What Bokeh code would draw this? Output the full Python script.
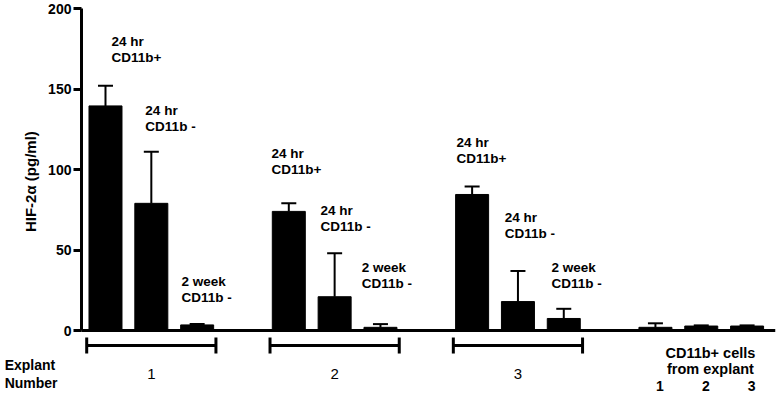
import numpy as np
from bokeh.plotting import figure
from bokeh.models import Range1d, FixedTicker, Whisker, TeeHead, ColumnDataSource
from bokeh.core.properties import value
from bokeh.embed import file_html
from bokeh.resources import INLINE

# ---------------- data ----------------
explants = ["1", "2", "3"]
conditions = ["24 hr CD11b+", "24 hr CD11b -", "2 week CD11b -"]
exp1_mean = [139.5, 79, 3.5]
exp1_err = [12.5, 32, 0.5]
exp2_mean = [74, 21, 2]
exp2_err = [5, 27, 2]
exp3_mean = [84.5, 18, 7.5]
exp3_err = [5, 19, 6]
cells_mean = [2, 2.8, 2.8]
cells_err = [2.5, 0.4, 0.4]
y_ticks = [0, 50, 100, 150, 200]
cond_line1 = ["24 hr", "24 hr", "2 week"]
cond_line2 = ["CD11b+", "CD11b -", "CD11b -"]

# ---------------- layout constants ----------------
FONT = "Liberation Sans"
GROUP_STEP = 4
BAR_W = 0.72
X_START, X_END = -2.291, 14.62
Y_START, Y_END = -42.2, 204.97
AXIS_X = -0.524
label_dx = [0.13, -0.13, -0.34, -0.38, -0.31, -0.41, -0.34, -0.29, -0.27]
label_y = [179.5, 136.6, 30.4, 110, 74.5, 39, 116.8, 70.2, 39]

p = figure(width=776, height=398, output_backend="svg", toolbar_location=None,
           x_range=Range1d(X_START, X_END), y_range=Range1d(Y_START, Y_END),
           x_axis_location=None, min_border_left=0, min_border_right=1,
           min_border_top=0, min_border_bottom=0)
p.outline_line_color = None
p.xgrid.visible = False
p.ygrid.visible = False
p.background_fill_color = "white"

ax = p.yaxis[0]
ax.fixed_location = AXIS_X
ax.bounds = (0, 200)
ax.ticker = FixedTicker(ticks=y_ticks)
ax.axis_line_width = 3
ax.major_tick_line_width = 3
ax.major_tick_out = 8
ax.major_tick_in = 0
ax.minor_tick_out = 0
ax.minor_tick_in = 0
ax.major_label_standoff = 2
ax.major_label_text_font = FONT
ax.major_label_text_font_style = "bold"
ax.major_label_text_font_size = "14px"
ax.major_label_text_color = "black"

# y-axis title
p.text(x=[-1.64], y=[92.5], text=["HIF-2α (pg/ml)"], angle=np.pi / 2,
       text_font=value(FONT), text_font_style="bold", text_font_size="15px",
       text_align="center", text_baseline="middle", text_color="black")

# bars
all_means = [exp1_mean, exp2_mean, exp3_mean, cells_mean]
all_errs = [exp1_err, exp2_err, exp3_err, cells_err]
xs, tops, uppers = [], [], []
for g, (m, e) in enumerate(zip(all_means, all_errs)):
    for i in range(3):
        xs.append(g * GROUP_STEP + i)
        tops.append(m[i])
        uppers.append(m[i] + e[i])
src = ColumnDataSource(dict(x=xs, top=tops, upper=uppers))
p.vbar(x="x", top="top", bottom=0, width=BAR_W, source=src, color="black")
p.add_layout(Whisker(source=src, base="x", lower="top", upper="upper", dimension="height",
                     line_width=2, line_color="black", lower_head=None,
                     upper_head=TeeHead(size=15, line_width=2, line_color="black")))

# baseline at zero
p.segment(x0=[AXIS_X], x1=[X_END], y0=[0], y1=[0], line_width=3, line_color="black")

# bar labels
lx, ly, t1, t2 = [], [], [], []
k = 0
for g in range(3):
    for i in range(3):
        lx.append(g * GROUP_STEP + i + label_dx[k])
        ly.append(label_y[k])
        t1.append(cond_line1[i])
        t2.append(cond_line2[i])
        k += 1
lsrc = ColumnDataSource(dict(x=lx, y=ly, t1=t1, t2=t2))
for col, off in (("t1", 0), ("t2", 16)):
    p.text(x="x", y="y", text=col, source=lsrc, y_offset=off,
           text_font=value(FONT), text_font_style="bold", text_font_size="13.5px",
           text_align="left", text_baseline="middle", text_color="black")

# explant brackets
bsrc = ColumnDataSource(dict(y=[-9.3] * 3,
                             lo=[g * GROUP_STEP - 0.41 for g in range(3)],
                             hi=[g * GROUP_STEP + 2.41 for g in range(3)]))
p.add_layout(Whisker(source=bsrc, base="y", lower="lo", upper="hi", dimension="width",
                     line_width=3, line_color="black",
                     lower_head=TeeHead(size=16, line_width=3, line_color="black"),
                     upper_head=TeeHead(size=16, line_width=3, line_color="black")))
p.text(x=[g * GROUP_STEP + 1 for g in range(3)], y=[-26.7] * 3, text=explants,
       text_font=value(FONT), text_font_size="15px", text_align="center",
       text_baseline="middle", text_color="black")

# CD11b+ cells group labels
p.text(x=[13.2, 13.2], y=[-13.7, -23.6], text=["CD11b+ cells", "from explant"],
       text_font=value(FONT), text_font_style="bold", text_font_size="14.5px",
       text_align="center", text_baseline="middle", text_color="black")
p.text(x=[3 * GROUP_STEP + i + 0.1 for i in range(3)], y=[-34.2] * 3, text=explants,
       text_font=value(FONT), text_font_style="bold", text_font_size="14px",
       text_align="center", text_baseline="middle", text_color="black")

# "Explant Number"
p.text(x=[-2.2, -2.2], y=[-21.7, -32.3], text=["Explant", "Number"],
       text_font=value(FONT), text_font_style="bold", text_font_size="14px",
       text_align="left", text_baseline="middle", text_color="black")

open("out.html", "w").write(file_html(p, INLINE))
